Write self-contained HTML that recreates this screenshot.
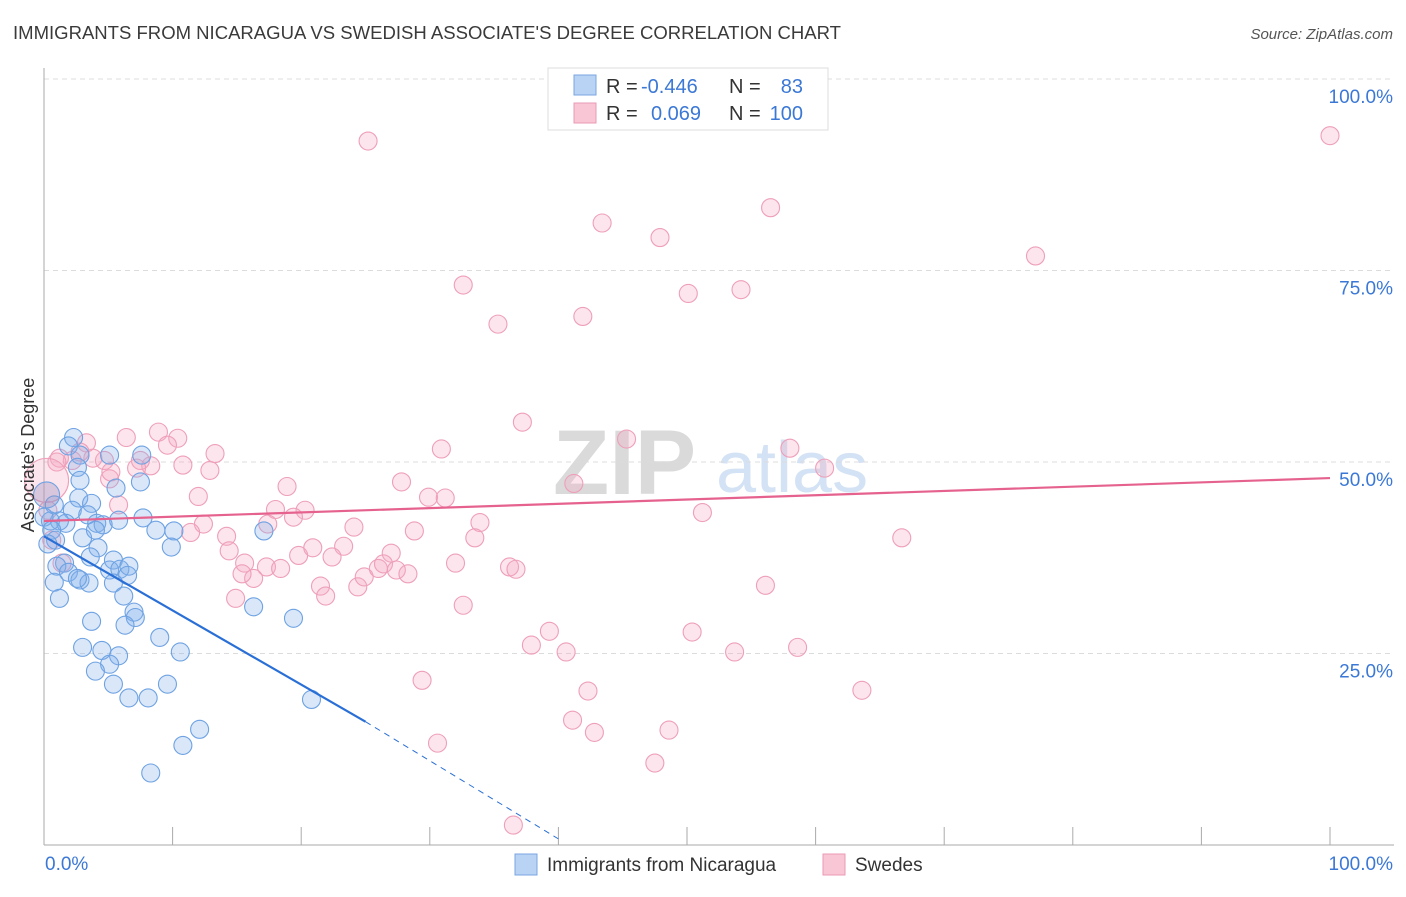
<!DOCTYPE html>
<html><head><meta charset="utf-8"><style>
body{margin:0;background:#fff;font-family:"Liberation Sans",sans-serif;}
svg text{font-family:"Liberation Sans",sans-serif;}
</style></head><body>
<svg id="chart" width="1406" height="892" viewBox="0 0 1406 892" xmlns="http://www.w3.org/2000/svg">
<text x="13" y="39" font-size="18" fill="#3a3a3a" textLength="828" lengthAdjust="spacingAndGlyphs">IMMIGRANTS FROM NICARAGUA VS SWEDISH ASSOCIATE'S DEGREE CORRELATION CHART</text>
<text x="1393" y="39" font-size="15" fill="#555" font-style="italic" text-anchor="end">Source: ZipAtlas.com</text>
<g>
<text x="553" y="494" font-size="92" fill="#dadada" font-family="Liberation Serif" font-weight="bold">ZIP</text>
<text x="716" y="492" font-size="72" fill="#d3e2f4">atlas</text>
</g>
<g id="grid"></g>
<g id="axes"></g>
<g id="pink"></g>
<g id="blue"></g>
<g id="trends"></g>
<text transform="translate(34,455) rotate(-90)" font-size="18" fill="#333" text-anchor="middle">Associate's Degree</text>
<g>
<rect x="548" y="68" width="280" height="62" fill="#fff" stroke="#ddd"/>
<rect x="574" y="75" width="22" height="20" fill="#b8d3f4" stroke="#7aa6e0"/>
<rect x="574" y="103" width="22" height="20" fill="#f9c6d5" stroke="#ea9ab4"/>
<text x="606" y="93" font-size="20" fill="#333">R = </text><text x="641" y="93" font-size="20" fill="#3b78d6">-0.446</text>
<text x="729" y="93" font-size="20" fill="#333">N = </text><text x="803" y="93" font-size="20" fill="#3b78d6" text-anchor="end">83</text>
<text x="606" y="120" font-size="20" fill="#333">R = </text><text x="651" y="120" font-size="20" fill="#3b78d6">0.069</text>
<text x="729" y="120" font-size="20" fill="#333">N = </text><text x="803" y="120" font-size="20" fill="#3b78d6" text-anchor="end">100</text>
</g>
<g>
<rect x="515" y="854" width="22" height="21" fill="#b8d3f4" stroke="#7aa6e0"/>
<text x="547" y="871" font-size="19" fill="#333">Immigrants from Nicaragua</text>
<rect x="823" y="854" width="22" height="21" fill="#f9c6d5" stroke="#ea9ab4"/>
<text x="855" y="871" font-size="19" fill="#333">Swedes</text>
</g>
</svg>
<script>
const yTicks=[25,50,75,100];
const yTickLabels=["25.0%","50.0%","75.0%","100.0%"];
const xTickCount=10;
const blueX=[2.3,1.9,2.8,2.6,2.8,5.6,7.6,7.5,5.1,0.8,2.7,3.7,2.2,3.4,1.2,0.5,1.7,4.1,4.6,5.8,7.7,0,0.6,3.0,4.0,10.1,8.7,9.9,17.1,4.2,5.4,3.6,1.6,1.0,1.9,0.8,2.8,3.5,5.1,5.9,6.6,6.5,5.4,2.6,1.2,6.2,7.0,7.1,6.3,3.7,16.3,19.4,9.0,10.6,3.0,4.5,5.8,5.1,4.0,5.4,9.6,6.6,8.1,20.8,12.1,10.8,8.3,0.9,0.3,0.2];
const blueY=[53.2,52.1,50.9,49.3,47.6,46.6,50.9,47.4,50.9,44.4,45.3,44.6,43.7,43.1,42.3,42.3,42.0,42.0,41.8,42.4,42.7,42.8,41.1,40.1,41.1,41.0,41.1,38.9,41.0,38.8,37.2,37.6,36.8,36.4,35.6,34.3,34.6,34.2,35.9,36.0,36.4,35.2,34.2,34.8,32.2,32.5,30.4,29.7,28.7,29.2,31.1,29.6,27.1,25.2,25.8,25.4,24.7,23.6,22.7,21.0,21.0,19.2,19.2,19.0,15.1,13.0,9.4,39.8,39.3,45.7];
const pinkX=[25.2,100,43.4,56.5,47.9,77.1,32.6,50.1,54.2,35.3,41.9,37.2,45.3,58.0,60.7,41.2,51.2,66.7,30.9,27.8,29.9,31.2,33.9,33.5,28.8,24.1,23.3,22.4,20.3,18.9,18.0,19.4,17.4,12.0,12.9,13.3,10.8,10.4,8.9,9.6,8.3,7.5,7.2,6.4,5.1,4.7,5.2,3.8,3.3,2.8,2.2,1.2,1.0,5.8,12.4,11.4,14.2,14.4,15.6,16.3,17.3,15.4,14.9,18.4,19.8,20.9,21.5,21.9,24.4,24.9,26.0,27.0,26.4,27.4,28.3,32.0,32.6,36.2,36.7,39.3,37.9,40.6,42.3,50.4,53.7,58.6,63.6,56.1,29.4,30.6,41.1,42.8,48.6,47.5,36.5,1.4,0.6,0.3,0.2];
const pinkY=[91.9,92.6,81.2,83.2,79.3,76.9,73.1,72.0,72.5,68.0,69.0,55.2,53.0,51.8,49.2,47.2,43.4,40.1,51.7,47.4,45.4,45.3,42.1,40.1,41.0,41.5,39.0,37.6,43.7,46.8,43.8,42.8,41.9,45.5,48.9,51.1,49.6,53.1,53.9,52.2,49.5,50.2,49.2,53.2,47.8,50.2,48.7,50.5,52.5,51.3,50.2,50.5,50.0,44.4,41.9,40.8,40.3,38.4,36.8,34.8,36.3,35.4,32.2,36.1,37.8,38.8,33.8,32.5,33.7,35.0,36.1,38.1,36.7,35.9,35.4,36.8,31.3,36.3,36.0,27.9,26.1,25.2,20.1,27.8,25.2,25.8,20.2,33.9,21.5,13.3,16.3,14.7,15.0,10.7,2.6,36.8,39.8,43.7,47.6];
const blueTrendX=[0,25,40];
const blueTrendY=[40.3,16.1,0.8];
const pinkTrendX=[0,100];
const pinkTrendY=[42.3,47.9];

const NS="http://www.w3.org/2000/svg";
const X0=44,X1=1330,Y0=845,Y100=79;
const sx=v=>X0+(X1-X0)*v/100;
const sy=v=>Y0-(Y0-Y100)*v/100;
function mk(tag,attrs,parent){const e=document.createElementNS(NS,tag);for(const k in attrs)e.setAttribute(k,attrs[k]);parent.appendChild(e);return e;}
const grid=document.getElementById('grid'),axes=document.getElementById('axes');
yTicks.forEach((t,i)=>{
 const l=mk('line',{x1:X0,x2:1394,y1:sy(t),y2:sy(t),stroke:'#dcdcdc','stroke-dasharray':'5,4'},grid);
 
 
 const tx=mk('text',{x:1393,y:sy(t)+24,'font-size':19,fill:'#3b78d6','text-anchor':'end'},axes);
 tx.textContent=yTickLabels[i];
 
 
});
const ya=mk('line',{x1:X0,x2:X0,y1:68,y2:Y0,stroke:'#aaa'},axes);


const xa=mk('line',{x1:X0,x2:1394,y1:Y0,y2:Y0,stroke:'#aaa'},axes);


for(let i=0;i<=xTickCount;i++){
 const v=i*100/xTickCount;
 const t=mk('line',{x1:sx(v),x2:sx(v),y1:827,y2:Y0,stroke:'#aaa'},axes);
 
 
}
const xl0=mk('text',{x:45,y:870,'font-size':19,fill:'#3b78d6'},axes);xl0.textContent='0.0%';


const xl1=mk('text',{x:1393,y:870,'font-size':19,fill:'#3b78d6','text-anchor':'end'},axes);xl1.textContent='100.0%';



const pg=document.getElementById('pink'),bg=document.getElementById('blue');
pinkX.forEach((x,i)=>{
 const big=i===pinkX.length-1;
 const c=mk('circle',{cx:sx(x),cy:sy(pinkY[i]),r:big?22:9,fill:'rgba(246,170,196,0.3)',stroke:'#ee9fb9','stroke-width':1.1},pg);
 
 
});
blueX.forEach((x,i)=>{
 const big=i===blueX.length-1;
 const c=mk('circle',{cx:sx(x),cy:sy(blueY[i]),r:big?13:9,fill:big?'rgba(150,140,190,0.35)':'rgba(130,176,234,0.3)',stroke:'#6ea2e2','stroke-width':1.1},bg);
 
 
});
const tg=document.getElementById('trends');
const b1=mk('line',{x1:sx(blueTrendX[0]),y1:sy(blueTrendY[0]),x2:sx(blueTrendX[1]),y2:sy(blueTrendY[1]),stroke:'#2a6fd6','stroke-width':2.2},tg);


const b2=mk('line',{x1:sx(blueTrendX[1]),y1:sy(blueTrendY[1]),x2:sx(blueTrendX[2]),y2:sy(blueTrendY[2]),stroke:'#2a6fd6','stroke-width':1,'stroke-dasharray':'6,5'},tg);


const p1=mk('line',{x1:sx(pinkTrendX[0]),y1:sy(pinkTrendY[0]),x2:sx(pinkTrendX[1]),y2:sy(pinkTrendY[1]),stroke:'#e6628e','stroke-width':2.2},tg);


</script>
</body></html>
